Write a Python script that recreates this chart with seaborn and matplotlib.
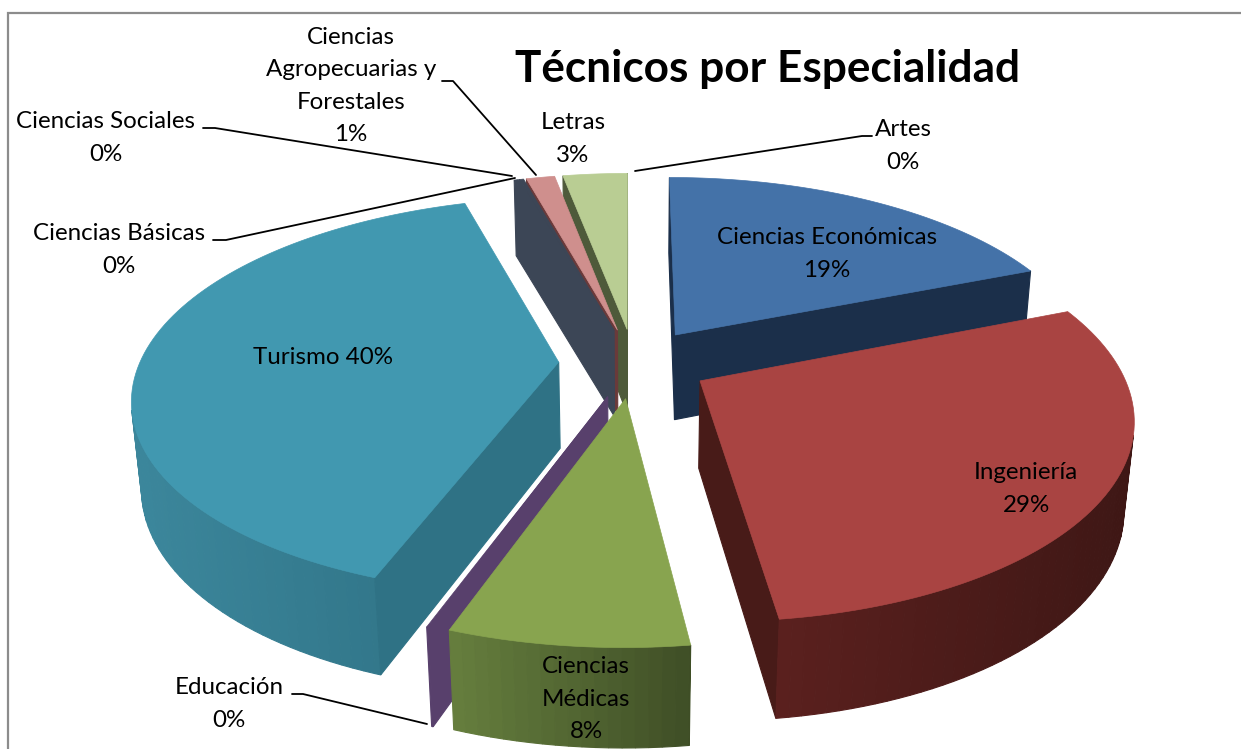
import numpy as np
import pandas as pd
import seaborn as sns
import matplotlib.pyplot as plt
from matplotlib.colors import to_rgb
from matplotlib.patches import Polygon

# datos
categorias = ['Ciencias Económicas', 'Ingeniería', 'Ciencias Médicas', 'Educación', 'Turismo',
              'Ciencias Básicas', 'Ciencias Sociales', 'Ciencias Agropecuarias y Forestales',
              'Letras', 'Artes']
valores = [18.97, 29.0, 7.52, 0.05, 39.8, 0.2, 0.2, 1.3, 2.95, 0.03]
titulo = 'Técnicos por Especialidad'

df = pd.DataFrame({'categoria': categorias, 'valor': valores})
df['pct'] = df['valor'] / df['valor'].sum() * 100

# estilo de cada porcion
explode = [0.18, 0.18, 0.18, 0.18, 0.18, 0.18, 0.18, 0.18, 0.18, 0.18]
top_col = ['#4472A8', '#A94442', '#88A44F', '#58406C', '#4198B0',
           '#3C4656', '#3C4656', '#CF8F8D', '#B9CD93', '#B9CD93']
radial_col = ['#1B2F4A', '#481B18', '#5A7036', '#58406C', '#2F7285',
              '#3C4656', '#3C4656', '#6A3A3A', '#4E5A3A', '#4E5A3A']
rim_izq = ['#1B2F4A', '#5A201E', '#667F3E', '#58406C', '#3C879C',
           '#3C4656', '#3C4656', '#6A3A3A', '#4E5A3A', '#4E5A3A']
rim_der = ['#1B2F4A', '#3E1715', '#3F4E26', '#58406C', '#2F7285',
           '#3C4656', '#3C4656', '#6A3A3A', '#4E5A3A', '#4E5A3A']

# vista en perspectiva
CX, CY = 634, 363
ESC_X, ESC_Y, GROSOR = 419, 193, 88
PERSP, PERSP_Z = 0.17, 0.02


def proyectar(x, y, z=0.0):
    w = 1 + PERSP * y + PERSP_Z * z
    return CX + ESC_X * x / w, CY + (-ESC_Y * y + GROSOR * z) / w


def mezclar(c1, c2, t):
    c1, c2 = np.array(to_rgb(c1)), np.array(to_rgb(c2))
    return tuple(c1 + (c2 - c1) * t)


sns.set_theme(style='white')
plt.rcParams['font.family'] = ['Lato', 'DejaVu Sans']

fig, ax = plt.subplots(figsize=(12.41, 7.49), dpi=100)
fig.subplots_adjust(left=0, right=1, top=1, bottom=0)

# las porciones salen de pie, luego se dibujan en perspectiva
wedges, _ = ax.pie(df['valor'], explode=explode, startangle=90, counterclock=False, radius=1)
geom = [(w.center, w.r, w.theta1, w.theta2) for w in wedges]
for w in wedges:
    w.remove()
ax.set_aspect('auto')
ax.set_xlim(0, 1241)
ax.set_ylim(749, 0)
ax.axis('off')


def dibujar_porcion(i, centro, r, t1, t2):
    ang = np.radians(np.arange(t1, t2, 1.5))
    ang = np.r_[ang, np.radians(t2)]
    xs = centro[0] + r * np.cos(ang)
    ys = centro[1] + r * np.sin(ang)
    # contorno: apice + arco (sentido antihorario en el plano)
    px = np.r_[centro[0], xs]
    py = np.r_[centro[1], ys]
    arriba = np.column_stack(proyectar(px, py, 0))
    abajo = np.column_stack(proyectar(px, py, 1))
    xmin, xmax = arriba[1:, 0].min(), arriba[1:, 0].max()
    n = len(px)
    for a in range(n):
        b = (a + 1) % n
        quad = np.array([arriba[a], arriba[b], abajo[b], abajo[a]])
        area = np.sum(quad[:, 0] * np.roll(quad[:, 1], -1) - np.roll(quad[:, 0], -1) * quad[:, 1])
        # solo caras que miran al observador (eje y invertido)
        if area <= 0:
            continue
        if a == 0 or a == n - 1:
            col = radial_col[i]
        else:
            t = (quad[:, 0].mean() - xmin) / max(xmax - xmin, 1)
            col = mezclar(rim_izq[i], rim_der[i], t)
        ax.add_patch(Polygon(quad, closed=True, fc=col, ec=col, lw=0.8))
    ax.add_patch(Polygon(arriba, closed=True, fc=top_col[i], ec=top_col[i], lw=0.5))


# de atras hacia adelante; una porcion casi nula no se ve
orden = sorted(range(len(geom)), key=lambda k: -geom[k][0][1])
for i in orden:
    if df['pct'][i] < 0.04:
        continue
    c, r, t1, t2 = geom[i]
    dibujar_porcion(i, c, r, t1, t2)

# marco del grafico
ax.plot([8, 8, 1241], [749, 13, 13], color='#8C8C8C', lw=1.6, solid_joinstyle='miter')

# titulo y etiquetas
ax.text(768, 69, titulo, fontsize=31.8, fontweight='bold', color='black', ha='center', va='center')
etiquetas = [
    (827, 254, 'Ciencias Económicas\n{}%', 0),
    (1026, 489, 'Ingeniería\n{}%', 1),
    (586, 699, 'Ciencias\nMédicas\n{}%', 2),
    (229, 704, 'Educación\n{}%', 3),
    (323, 358, 'Turismo {}%', 4),
    (119, 250, 'Ciencias Básicas\n{}%', 5),
    (106, 138, 'Ciencias Sociales\n{}%', 6),
    (351, 86, 'Ciencias\nAgropecuarias y\nForestales\n{}%', 7),
    (573, 139, 'Letras\n{}%', 8),
    (903, 146, 'Artes\n{}%', 9),
]
for x, y, txt, k in etiquetas:
    ax.text(x, y, txt.format(int(round(df['pct'][k]))), fontsize=17.4, color='black',
            ha='center', va='center', linespacing=1.66)

# lineas guia
guias = [
    ([203, 215, 512], [128, 128, 176]),
    ([213, 226, 515], [240, 240, 178]),
    ([442, 453, 536], [81, 81, 175]),
    ([635, 862, 872], [171, 136, 136]),
    ([292, 303, 427], [694, 694, 724]),
]
for gx, gy in guias:
    ax.plot(gx, gy, color='black', lw=1.3)

fig.savefig('out.png', dpi=100)
